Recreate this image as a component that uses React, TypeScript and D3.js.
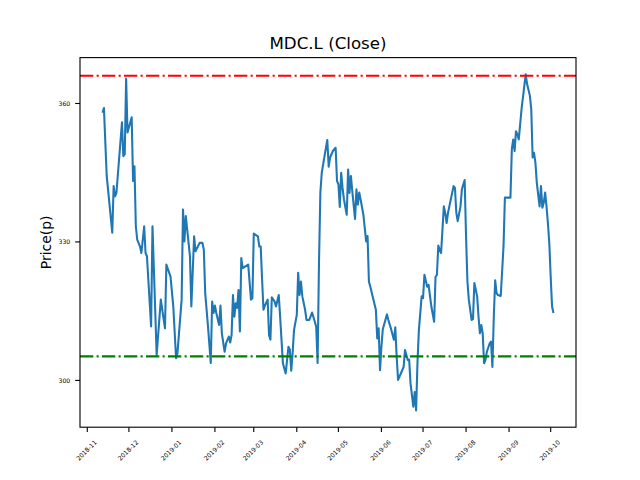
import React, { useEffect, useRef } from "react";
import * as d3 from "d3";

const ticker = "MDC.L";
const yLabel = "Price(p)";
const priceTicks = [300, 330, 360];
const resistanceLevel = 366.0;
const supportLevel = 305.2;

// daily close
const closes: [string, number][] = [
  ["2018-11-12", 358.0], ["2018-11-13", 359.0], ["2018-11-15", 344.3], ["2018-11-19", 332.0],
  ["2018-11-20", 342.1], ["2018-11-21", 339.9], ["2018-11-22", 340.6], ["2018-11-26", 355.9],
  ["2018-11-27", 348.6], ["2018-11-28", 349.0], ["2018-11-29", 365.4], ["2018-11-30", 353.7],
  ["2018-12-01", 354.8], ["2018-12-03", 357.0], ["2018-12-04", 343.2], ["2018-12-05", 346.4],
  ["2018-12-06", 333.4], ["2018-12-07", 330.5], ["2018-12-09", 329.0], ["2018-12-10", 327.6],
  ["2018-12-12", 333.4], ["2018-12-13", 327.6], ["2018-12-14", 326.9], ["2018-12-17", 311.7],
  ["2018-12-18", 333.4], ["2018-12-21", 305.5], ["2018-12-24", 317.5], ["2018-12-27", 311.3],
  ["2018-12-28", 325.1], ["2018-12-31", 322.5], ["2019-01-02", 316.0], ["2019-01-04", 304.8],
  ["2019-01-05", 305.9], ["2019-01-08", 317.5], ["2019-01-09", 337.0], ["2019-01-10", 330.1],
  ["2019-01-11", 335.6], ["2019-01-14", 326.9], ["2019-01-15", 316.0], ["2019-01-17", 331.2],
  ["2019-01-18", 328.0], ["2019-01-21", 329.8], ["2019-01-23", 329.8], ["2019-01-24", 328.3],
  ["2019-01-25", 318.9], ["2019-01-27", 311.7], ["2019-01-29", 303.8], ["2019-01-30", 317.1],
  ["2019-01-31", 314.6], ["2019-02-01", 316.2], ["2019-02-02", 314.6], ["2019-02-04", 312.0],
  ["2019-02-05", 316.2], ["2019-02-06", 310.2], ["2019-02-08", 306.2], ["2019-02-09", 308.0],
  ["2019-02-11", 309.5], ["2019-02-12", 308.2], ["2019-02-13", 309.8], ["2019-02-14", 318.5],
  ["2019-02-15", 313.8], ["2019-02-16", 316.7], ["2019-02-17", 315.7], ["2019-02-18", 319.6],
  ["2019-02-19", 310.6], ["2019-02-20", 326.5], ["2019-02-21", 324.3], ["2019-02-23", 324.7],
  ["2019-02-25", 325.1], ["2019-02-27", 317.5], ["2019-02-28", 317.8], ["2019-03-01", 331.8],
  ["2019-03-02", 331.6], ["2019-03-04", 331.2], ["2019-03-05", 329.0], ["2019-03-06", 329.0],
  ["2019-03-07", 321.8], ["2019-03-08", 315.3], ["2019-03-09", 316.2], ["2019-03-11", 317.5],
  ["2019-03-12", 309.8], ["2019-03-13", 308.8], ["2019-03-14", 318.0], ["2019-03-16", 317.1],
  ["2019-03-17", 316.0], ["2019-03-19", 318.5], ["2019-03-20", 313.8], ["2019-03-22", 303.7],
  ["2019-03-23", 302.6], ["2019-03-24", 301.5], ["2019-03-26", 307.3], ["2019-03-27", 306.7],
  ["2019-03-28", 302.1], ["2019-03-29", 305.9], ["2019-03-30", 310.9], ["2019-04-01", 314.2],
  ["2019-04-02", 323.3], ["2019-04-03", 318.5], ["2019-04-04", 321.4], ["2019-04-05", 318.2],
  ["2019-04-07", 315.3], ["2019-04-08", 313.1], ["2019-04-10", 313.1], ["2019-04-12", 314.7],
  ["2019-04-14", 312.7], ["2019-04-15", 311.6], ["2019-04-16", 303.8], ["2019-04-17", 325.4],
  ["2019-04-18", 340.7], ["2019-04-19", 345.0], ["2019-04-21", 348.6], ["2019-04-23", 352.1],
  ["2019-04-24", 346.3], ["2019-04-25", 348.3], ["2019-04-27", 349.7], ["2019-04-29", 350.4],
  ["2019-04-30", 343.2], ["2019-05-01", 342.5], ["2019-05-02", 337.6], ["2019-05-03", 345.0],
  ["2019-05-04", 341.7], ["2019-05-05", 339.2], ["2019-05-07", 335.9], ["2019-05-08", 345.7],
  ["2019-05-09", 340.6], ["2019-05-10", 344.3], ["2019-05-11", 341.0], ["2019-05-13", 335.0],
  ["2019-05-14", 341.4], ["2019-05-15", 338.1], ["2019-05-16", 340.7], ["2019-05-17", 339.2],
  ["2019-05-19", 335.9], ["2019-05-21", 330.1], ["2019-05-22", 331.3], ["2019-05-23", 321.4],
  ["2019-05-24", 320.3], ["2019-05-26", 317.8], ["2019-05-28", 315.3], ["2019-05-29", 309.1],
  ["2019-05-30", 311.3], ["2019-05-31", 302.2], ["2019-06-01", 307.3], ["2019-06-02", 311.1],
  ["2019-06-05", 314.3], ["2019-06-06", 313.1], ["2019-06-08", 311.1], ["2019-06-10", 308.8],
  ["2019-06-11", 311.5], ["2019-06-12", 305.1], ["2019-06-13", 300.1], ["2019-06-15", 301.5],
  ["2019-06-17", 302.9], ["2019-06-18", 306.6], ["2019-06-20", 304.4], ["2019-06-21", 304.5],
  ["2019-06-22", 299.3], ["2019-06-24", 294.3], ["2019-06-25", 297.5], ["2019-06-26", 293.5],
  ["2019-06-27", 304.0], ["2019-06-28", 310.9], ["2019-06-30", 318.2], ["2019-07-01", 317.8],
  ["2019-07-02", 322.9], ["2019-07-04", 320.3], ["2019-07-05", 320.7], ["2019-07-07", 316.0],
  ["2019-07-09", 312.7], ["2019-07-10", 322.4], ["2019-07-11", 322.9], ["2019-07-12", 329.2],
  ["2019-07-13", 328.3], ["2019-07-14", 327.6], ["2019-07-16", 337.7], ["2019-07-17", 336.3],
  ["2019-07-18", 334.1], ["2019-07-19", 336.3], ["2019-07-21", 339.2], ["2019-07-23", 342.1],
  ["2019-07-24", 341.7], ["2019-07-25", 336.3], ["2019-07-26", 334.5], ["2019-07-28", 337.7],
  ["2019-07-29", 341.4], ["2019-07-31", 343.4], ["2019-08-01", 331.2], ["2019-08-02", 321.4],
  ["2019-08-03", 317.5], ["2019-08-05", 313.1], ["2019-08-06", 313.3], ["2019-08-07", 321.1],
  ["2019-08-09", 318.2], ["2019-08-10", 313.8], ["2019-08-11", 310.2], ["2019-08-12", 312.0],
  ["2019-08-13", 310.2], ["2019-08-14", 303.7], ["2019-08-15", 304.4], ["2019-08-16", 306.2],
  ["2019-08-18", 308.0], ["2019-08-19", 308.4], ["2019-08-20", 302.9], ["2019-08-21", 313.8],
  ["2019-08-22", 321.7], ["2019-08-23", 318.9], ["2019-08-24", 318.5], ["2019-08-26", 318.3],
  ["2019-08-28", 329.0], ["2019-08-29", 339.6], ["2019-09-02", 339.6], ["2019-09-03", 350.1],
  ["2019-09-04", 352.2], ["2019-09-05", 349.7], ["2019-09-06", 354.0], ["2019-09-07", 353.3],
  ["2019-09-08", 352.2], ["2019-09-10", 358.8], ["2019-09-12", 363.8], ["2019-09-13", 366.3],
  ["2019-09-14", 364.2], ["2019-09-16", 361.7], ["2019-09-17", 358.8], ["2019-09-18", 348.3],
  ["2019-09-19", 349.3], ["2019-09-20", 347.2], ["2019-09-21", 342.8], ["2019-09-23", 337.7],
  ["2019-09-24", 342.1], ["2019-09-25", 337.4], ["2019-09-26", 338.5], ["2019-09-27", 340.7],
  ["2019-09-28", 337.7], ["2019-09-29", 334.1], ["2019-09-30", 329.8], ["2019-10-01", 322.5],
  ["2019-10-02", 316.0], ["2019-10-03", 314.6],
];

type DataPoint = { date: Date; value: number };

const App: React.FC = () => {
  const svgRef = useRef<SVGSVGElement>(null);
  const width = 640;
  const height = 480;
  const margin = { top: 57.6, right: 64, bottom: 52.8, left: 80 };
  const font = "DejaVu Sans, sans-serif";

  useEffect(() => {
    const parseDate = d3.timeParse("%Y-%m-%d");
    const data: DataPoint[] = closes.map(([d, v]) => ({ date: parseDate(d)!, value: v }));

    const [d0, d1] = d3.extent(data, (d) => d.date) as [Date, Date];
    const span = +d1 - +d0;
    const xScale = d3.scaleTime()
      .domain([new Date(+d0 - span * 0.05), new Date(+d1 + span * 0.05)])
      .range([margin.left, width - margin.right]);

    const [v0, v1] = d3.extent(data, (d) => d.value) as [number, number];
    const pad = (v1 - v0) * 0.05;
    const yScale = d3.scaleLinear()
      .domain([v0 - pad, v1 + pad])
      .range([height - margin.bottom, margin.top]);

    const svg = d3.select(svgRef.current);
    svg.selectAll("*").remove();

    svg.append("rect")
      .attr("width", width).attr("height", height).attr("fill", "white");

    const line = d3.line<DataPoint>()
      .x((d) => xScale(d.date))
      .y((d) => yScale(d.value));

    svg.append("path")
      .datum(data)
      .attr("fill", "none")
      .attr("stroke", "#1f77b4")
      .attr("stroke-width", 2.08)
      .attr("stroke-linejoin", "round")
      .attr("d", line);

    const levels = [
      { value: resistanceLevel, color: "#ff0000" },
      { value: supportLevel, color: "#008000" },
    ];
    svg.selectAll(".level")
      .data(levels)
      .enter()
      .append("line")
      .attr("x1", margin.left)
      .attr("x2", width - margin.right)
      .attr("y1", (d) => yScale(d.value))
      .attr("y2", (d) => yScale(d.value))
      .attr("stroke", (d) => d.color)
      .attr("stroke-width", 2.08)
      .attr("stroke-dasharray", "13.3,3.3,2.1,3.3");

    // frame
    svg.append("rect")
      .attr("x", margin.left)
      .attr("y", margin.top)
      .attr("width", width - margin.left - margin.right)
      .attr("height", height - margin.top - margin.bottom)
      .attr("fill", "none")
      .attr("stroke", "black")
      .attr("stroke-width", 1.11);

    // y ticks
    const yTicks = svg.append("g");
    priceTicks.forEach((t) => {
      const y = yScale(t);
      yTicks.append("line")
        .attr("x1", margin.left - 4.86).attr("x2", margin.left)
        .attr("y1", y).attr("y2", y)
        .attr("stroke", "black").attr("stroke-width", 1.11);
      yTicks.append("text")
        .attr("x", margin.left - 9.7)
        .attr("y", y)
        .attr("text-anchor", "end")
        .attr("dominant-baseline", "central")
        .attr("font-family", font)
        .attr("font-size", 6.2)
        .attr("fill", "black")
        .text(String(t));
    });

    // x ticks
    const fmt = d3.timeFormat("%Y-%m");
    const bottom = height - margin.bottom;
    const xTicks = svg.append("g");
    xScale.ticks(d3.timeMonth.every(1)!).forEach((t) => {
      const x = xScale(t);
      xTicks.append("line")
        .attr("x1", x).attr("x2", x)
        .attr("y1", bottom).attr("y2", bottom + 4.86)
        .attr("stroke", "black").attr("stroke-width", 1.11);
      xTicks.append("text")
        .attr("transform", `translate(${x - 1},${bottom + 23}) rotate(-45)`)
        .attr("text-anchor", "middle")
        .attr("dominant-baseline", "central")
        .attr("font-family", font)
        .attr("font-size", 6.2)
        .attr("fill", "black")
        .text(fmt(t));
    });

    svg.append("text")
      .attr("x", (margin.left + width - margin.right) / 2)
      .attr("y", margin.top - 8.3)
      .attr("text-anchor", "middle")
      .attr("font-family", font)
      .attr("font-size", 16.67)
      .text(`${ticker} (Close)`);

    svg.append("text")
      .attr("transform", `translate(51,${(margin.top + height - margin.bottom) / 2}) rotate(-90)`)
      .attr("text-anchor", "middle")
      .attr("font-family", font)
      .attr("font-size", 13.9)
      .text(yLabel);
  }, []);

  return (
    <svg
      ref={svgRef}
      width={width}
      height={height}
      style={{ position: "fixed", left: 0, top: 0 }}
    ></svg>
  );
};

export default App;
